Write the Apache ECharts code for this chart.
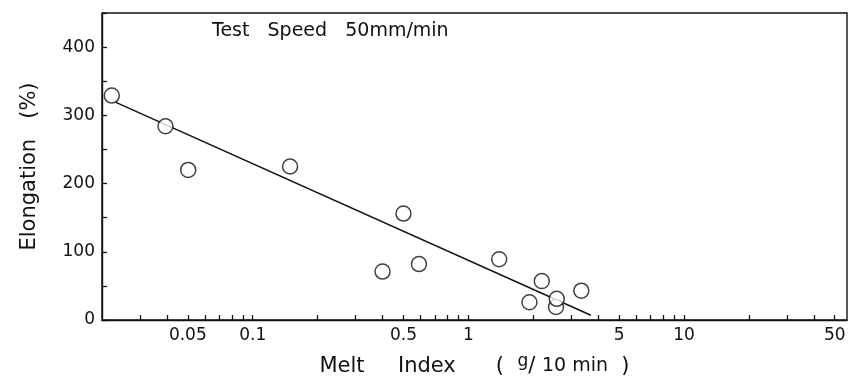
<!DOCTYPE html>
<html>
<head>
<meta charset="utf-8">
<script src="https://cdn.jsdelivr.net/npm/echarts@6/dist/echarts.min.js"></script>
<style>
  html, body { margin: 0; padding: 0; background: #fff; }
  #chart { width: 864px; height: 385px; }
</style>
</head>
<body>
<div id="chart"></div>
<script>
// melt index (g/10 min) vs elongation (%)
const meltIndex = [0.0222, 0.0394, 0.0502, 0.149, 0.40, 0.50, 0.59, 1.39, 1.92, 2.19, 2.55, 2.57, 3.34];
const elongation = [329, 284, 220, 225, 71, 156, 82, 89, 26, 57, 19, 31, 43];
// fitted line end points
const fitX = [0.0232, 3.7];
const fitY = [319, 7];

const xLabelValues = [0.05, 0.1, 0.5, 1, 5, 10, 50];
const xTickValues = [0.03, 0.04, 0.05, 0.06, 0.07, 0.08, 0.09, 0.1,
  0.2, 0.3, 0.4, 0.5, 0.6, 0.7, 0.8, 0.9, 1,
  2, 3, 4, 5, 6, 7, 8, 9, 10, 20, 30, 40, 50];
const yLabelValues = [0, 100, 200, 300, 400];

const font = 'DejaVu Sans';
const ink = '#111';

const chart = echarts.init(document.getElementById('chart'));

chart.setOption({
  animation: false,
  backgroundColor: '#fff',
  grid: {
    left: 102, right: 17, top: 13, bottom: 65,
    show: true, borderColor: ink, borderWidth: 1.4, backgroundColor: 'transparent'
  },
  graphic: [{
    type: 'text',
    left: 212, top: 22,
    style: { text: 'Test   Speed   50mm/min', font: '19px "DejaVu Sans"', fill: ink }
  }],
  xAxis: {
    type: 'log',
    logBase: 10,
    min: 0.02,
    max: 57,
    name: '{t|Melt     Index      (  }{sup|g}{t|/ }{sm|10 min}{t|  )}',
    nameLocation: 'middle',
    nameGap: 33,
    nameTextStyle: {
      rich: {
        t: { fontFamily: font, fontSize: 21, color: ink },
        sup: { fontFamily: font, fontSize: 17, color: ink, verticalAlign: 'top', padding: [0, 0, 10, 0] },
        sm: { fontFamily: font, fontSize: 19, color: ink }
      }
    },
    axisLine: { lineStyle: { color: ink, width: 1.4 } },
    axisTick: { inside: true, length: 5, customValues: xTickValues, lineStyle: { color: ink, width: 1.3 } },
    axisLabel: {
      customValues: xLabelValues,
      fontFamily: font, fontSize: 17, color: ink, margin: 7,
      formatter: v => String(v)
    },
    splitLine: { show: false },
    minorTick: { show: false },
    minorSplitLine: { show: false }
  },
  yAxis: {
    type: 'value',
    min: 0,
    max: 450,
    interval: 50,
    name: 'Elongation   (%)',
    nameLocation: 'middle',
    nameGap: 62,
    nameTextStyle: { fontFamily: font, fontSize: 21, color: ink },
    axisLine: { show: true, lineStyle: { color: ink, width: 1.4 } },
    axisTick: { show: true, inside: true, length: 5, lineStyle: { color: ink, width: 1.3 } },
    axisLabel: {
      fontFamily: font, fontSize: 17, color: ink, margin: 7,
      formatter: v => (yLabelValues.indexOf(v) >= 0 ? String(v) : '')
    },
    splitLine: { show: false }
  },
  series: [
    {
      type: 'line',
      data: fitX.map((x, i) => [x, fitY[i]]),
      showSymbol: false,
      lineStyle: { color: ink, width: 1.5 },
      z: 2
    },
    {
      type: 'scatter',
      data: meltIndex.map((x, i) => [x, elongation[i]]),
      symbol: 'circle',
      symbolSize: 15,
      itemStyle: { color: '#fff', borderColor: ink, borderWidth: 1.5 },
      z: 3
    }
  ]
});
</script>
</body>
</html>
